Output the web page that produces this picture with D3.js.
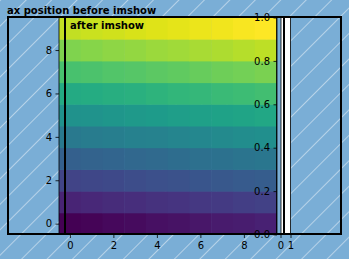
<!DOCTYPE html>
<meta charset="utf-8">
<style>
body { margin: 0; }
text { font-family: "DejaVu Sans", sans-serif; }
</style>
<svg width="349" height="259"></svg>
<script src="https://cdn.jsdelivr.net/npm/d3@7"></script>
<script>
// image values, bottom row first (origin lower)
var rows = [
  [0, 1, 2, 3, 4, 5, 6, 7, 8, 9],
  [10, 11, 12, 13, 14, 15, 16, 17, 18, 19],
  [20, 21, 22, 23, 24, 25, 26, 27, 28, 29],
  [30, 31, 32, 33, 34, 35, 36, 37, 38, 39],
  [40, 41, 42, 43, 44, 45, 46, 47, 48, 49],
  [50, 51, 52, 53, 54, 55, 56, 57, 58, 59],
  [60, 61, 62, 63, 64, 65, 66, 67, 68, 69],
  [70, 71, 72, 73, 74, 75, 76, 77, 78, 79],
  [80, 81, 82, 83, 84, 85, 86, 87, 88, 89],
  [90, 91, 92, 93, 94, 95, 96, 97, 98, 99]
];
var imgTicks = [0, 2, 4, 6, 8];
var cbarTicks = [0, 0.2, 0.4, 0.6, 0.8, 1.0];
var sideTicks = [0, 1];

var svg = d3.select("svg");

// figure background with hatch
var pat = svg.append("defs").append("pattern")
    .attr("id", "hatch")
    .attr("patternUnits", "userSpaceOnUse")
    .attr("width", 18).attr("height", 18)
    .attr("patternTransform", "rotate(45)");
pat.append("rect").attr("width", 18).attr("height", 18).attr("fill", "#7aaed6");
pat.append("line").attr("x1", 0).attr("y1", 0).attr("x2", 0).attr("y2", 18)
    .attr("stroke", "#e8f1f8").attr("stroke-width", 1.1);
svg.append("rect").attr("width", 349).attr("height", 259).attr("fill", "url(#hatch)");

var yTop = 17.5, yBot = 234.5;

// image axes
var x = d3.scaleLinear().domain([-0.5, 9.5]).range([59, 276.5]);
var y = d3.scaleLinear().domain([-0.5, 9.5]).range([yBot, yTop]);
var color = d3.scaleSequential(d3.interpolateViridis).domain([0, 99]);

var cells = [];
rows.forEach(function(r, i) {
  r.forEach(function(v, j) { cells.push({row: i, col: j, v: v}); });
});

svg.append("g").selectAll("rect")
  .data(cells)
  .enter().append("rect")
    .attr("x", function(d) { return x(d.col - 0.5); })
    .attr("y", function(d) { return y(d.row + 0.5); })
    .attr("width", x(0.5) - x(-0.5) + 0.5)
    .attr("height", y(-0.5) - y(0.5) + 0.5)
    .attr("fill", function(d) { return color(d.v); });

svg.append("rect")
    .attr("x", x(-0.5)).attr("y", yTop)
    .attr("width", x(9.5) - x(-0.5)).attr("height", yBot - yTop)
    .attr("fill", "none").attr("stroke", "#000").attr("stroke-width", 0.8);

function styleAxis(g) {
  g.select(".domain").remove();
  g.selectAll("text").attr("font-size", 10).attr("fill", "#000")
    .attr("font-family", "DejaVu Sans");
  g.selectAll("line").attr("stroke", "#000").attr("stroke-width", 0.8);
}

svg.append("g")
    .attr("transform", "translate(0," + yBot + ")")
    .call(d3.axisBottom(x).tickValues(imgTicks).tickSize(3.5).tickPadding(3.5))
    .call(styleAxis);
svg.append("g")
    .attr("transform", "translate(" + x(-0.5) + ",0)")
    .call(d3.axisLeft(y).tickValues(imgTicks).tickSize(3.5).tickPadding(3.5))
    .call(styleAxis);

// white side axes
var sx = d3.scaleLinear().domain([0, 1]).range([280.5, 290.5]);
svg.append("rect")
    .attr("x", sx(0)).attr("y", yTop)
    .attr("width", sx(1) - sx(0)).attr("height", yBot - yTop)
    .attr("fill", "#fff").attr("stroke", "#000").attr("stroke-width", 0.8);
svg.append("g")
    .attr("transform", "translate(0," + yBot + ")")
    .call(d3.axisBottom(sx).tickValues(sideTicks).tickFormat(d3.format("d")).tickSize(3.5).tickPadding(3.5))
    .call(styleAxis);

// colorbar-like empty axes
var cy = d3.scaleLinear().domain([0, 1]).range([yBot, yTop]);
svg.append("rect")
    .attr("x", 277).attr("y", yTop)
    .attr("width", 4).attr("height", yBot - yTop)
    .attr("fill", "#7aaed6").attr("stroke", "#000").attr("stroke-width", 0.8);
svg.append("g")
    .attr("transform", "translate(277,0)")
    .call(d3.axisLeft(cy).tickValues(cbarTicks).tickFormat(d3.format(".1f")).tickSize(3.5).tickPadding(3.5))
    .call(styleAxis);

// position boxes
svg.append("rect")
    .attr("x", 8).attr("y", 17)
    .attr("width", 333).attr("height", 217)
    .attr("fill", "none").attr("stroke", "#000").attr("stroke-width", 2);
svg.append("rect")
    .attr("x", 65).attr("y", 17)
    .attr("width", 219).attr("height", 217)
    .attr("fill", "none").attr("stroke", "#000").attr("stroke-width", 2);

svg.append("text")
    .attr("x", 7).attr("y", 14)
    .attr("font-size", 10).attr("font-weight", "bold")
    .text("ax position before imshow");
svg.append("text")
    .attr("x", 70).attr("y", 29)
    .attr("font-size", 10).attr("font-weight", "bold")
    .text("after imshow");
</script>
